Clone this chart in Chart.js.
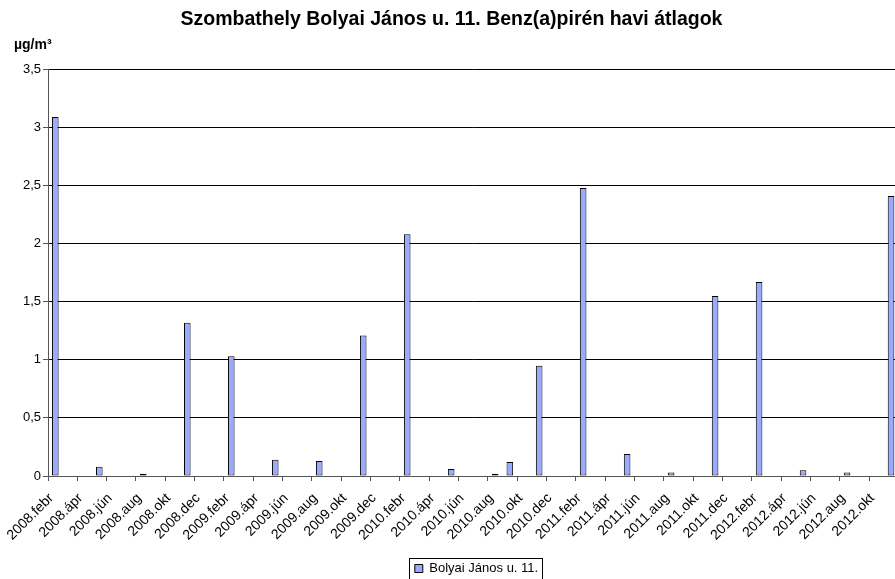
<!DOCTYPE html>
<html><head><meta charset="utf-8">
<script src="https://cdn.jsdelivr.net/npm/chart.js@4"></script>
<style>
html,body{margin:0;padding:0;background:#fff;overflow:hidden}
#wrap{width:895px;height:579px;overflow:hidden;position:relative;background:#fff}
#c{position:absolute;left:0;top:0}
</style></head>
<body><div id="wrap"><canvas id="c" width="912" height="579" style="width:912px;height:579px"></canvas></div>
<script>
const chartTitle = 'Szombathely Bolyai János u. 11. Benz(a)pirén havi átlagok';
const unitLabel = 'µg/m³';
const seriesName = 'Bolyai János u. 11.';
const categories = [
 '2008.febr','2008.márc','2008.ápr','2008.máj','2008.jún','2008.júl','2008.aug','2008.szept','2008.okt','2008.nov','2008.dec',
 '2009.jan','2009.febr','2009.márc','2009.ápr','2009.máj','2009.jún','2009.júl','2009.aug','2009.szept','2009.okt','2009.nov','2009.dec',
 '2010.jan','2010.febr','2010.márc','2010.ápr','2010.máj','2010.jún','2010.júl','2010.aug','2010.szept','2010.okt','2010.nov','2010.dec',
 '2011.jan','2011.febr','2011.márc','2011.ápr','2011.máj','2011.jún','2011.júl','2011.aug','2011.szept','2011.okt','2011.nov','2011.dec',
 '2012.jan','2012.febr','2012.márc','2012.ápr','2012.máj','2012.jún','2012.júl','2012.aug','2012.szept','2012.okt','2012.nov'
];
const values = [
 3.09, null, null, 0.08, null, null, 0.02, null, null, 1.32, null,
 null, 1.03, null, null, 0.14, null, null, 0.13, null, null, 1.21, null,
 null, 2.08, null, null, 0.06, null, null, 0.02, 0.12, null, 0.95, null,
 null, 2.48, null, null, 0.19, null, null, 0.03, null, null, 1.55, null,
 null, 1.67, null, null, 0.05, null, null, 0.03, null, null, 2.41
];
const yTicks = [0, 0.5, 1, 1.5, 2, 2.5, 3, 3.5];

const FONT = 'Arial, "Liberation Sans", sans-serif';
const barFill = '#99AAFF';

const extras = {
  id: 'extras',
  afterLayout(chart) {
    const lg = chart.legend;
    if (lg) { lg.left += 25; lg.right += 25; lg.top += 6; lg.bottom += 6; }
  },
  afterDraw(chart) {
    const ctx = chart.ctx;
    ctx.save();
    ctx.fillStyle = '#000';
    ctx.font = 'bold 14px ' + FONT;
    ctx.textAlign = 'left';
    ctx.textBaseline = 'middle';
    ctx.fillText(unitLabel, 14, 45);
    const hb = chart.legend && chart.legend.legendHitBoxes && chart.legend.legendHitBoxes[0];
    if (hb) {
      ctx.strokeStyle = '#000';
      ctx.lineWidth = 1;
      const l = Math.round(hb.left - 6), t = Math.round(hb.top - 4);
      const r = Math.round(hb.left + hb.width + 4), b = Math.round(hb.top + hb.height + 4);
      ctx.strokeRect(l + 0.5, t + 0.5, r - l, b - t);
    }
    ctx.restore();
  }
};

new Chart(document.getElementById('c'), {
  type: 'bar',
  data: {
    labels: categories,
    datasets: [{
      label: seriesName,
      data: values,
      backgroundColor: barFill,
      borderColor: '#000',
      borderWidth: 1,
      borderSkipped: false,
      categoryPercentage: 1,
      barPercentage: 0.45
    }]
  },
  options: {
    responsive: false,
    animation: false,
    devicePixelRatio: 1,
    layout: { padding: { left: 0, right: 9, top: 0, bottom: 0 } },
    plugins: {
      title: {
        display: true, text: chartTitle, color: '#000',
        font: { family: FONT, size: 19.5, weight: 'bold' },
        padding: { top: 8, bottom: 38 }
      },
      legend: {
        display: true, position: 'bottom',
        labels: {
          color: '#000', font: { family: FONT, size: 13 },
          boxWidth: 8, boxHeight: 8, padding: 4
        }
      },
      tooltip: { enabled: false }
    },
    scales: {
      x: {
        offset: true,
        afterFit(s) { s.height = 76; },
        grid: {
          offset: true, drawOnChartArea: false, drawTicks: true, tickLength: 5,
          color: c => (c.index % 2 === 0 ? '#555' : 'rgba(0,0,0,0)')
        },
        border: { display: true, color: '#555', width: 1 },
        ticks: {
          autoSkip: false, maxRotation: 45, minRotation: 45, padding: 9, labelOffset: -4,
          color: '#000', font: { family: FONT, size: 14 },
          callback: (v, i) => (i % 2 === 0 ? categories[i] : '')
        }
      },
      y: {
        min: yTicks[0], max: yTicks[yTicks.length - 1],
        afterFit(s) { s.width = 48; },
        afterBuildTicks(s) { s.ticks = yTicks.map(v => ({ value: v })); },
        grid: { color: '#000', lineWidth: 1, tickLength: 5, tickColor: '#555' },
        border: { display: true, color: '#555', width: 1 },
        ticks: {
          padding: 2, color: '#000', font: { family: FONT, size: 13 },
          callback: v => String(v).replace('.', ',')
        }
      }
    }
  },
  plugins: [extras]
});
</script>
</body></html>
